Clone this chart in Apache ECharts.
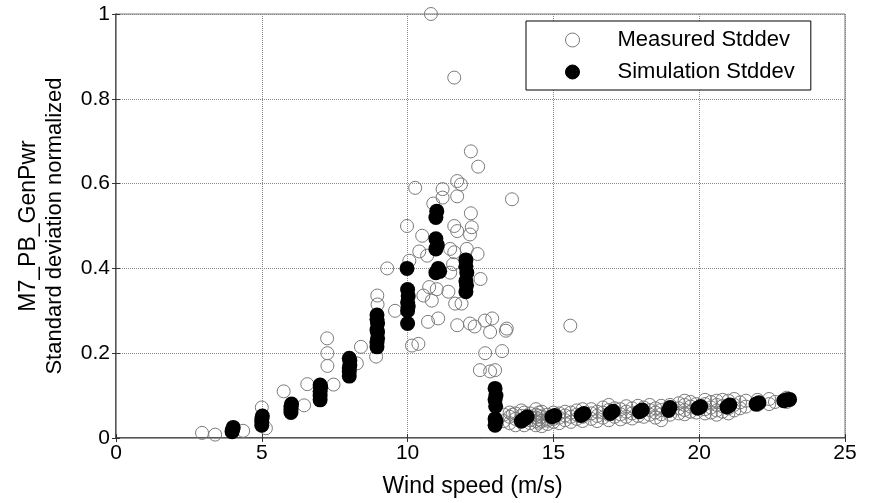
<!DOCTYPE html>
<html>
<head>
<meta charset="utf-8">
<script src="https://cdn.jsdelivr.net/npm/echarts@6/dist/echarts.min.js"></script>
<style>html,body{margin:0;padding:0;background:#fff}#c{width:874px;height:503px}</style>
</head>
<body>
<div id="c"></div>
<script>
const xTicks = [0, 5, 10, 15, 20, 25];
const yTicks = [0, 0.2, 0.4, 0.6, 0.8, 1];
const seriesNames = ['Measured Stddev', 'Simulation Stddev'];
const xName = 'Wind speed (m/s)';
const yNameLines = ['M7_PB_GenPwr', 'Standard deviation normalized'];

const measured = [
  [2.95,0.012],[3.4,0.008],[4.36,0.017],[5.0,0.072],[5.14,0.023],[5.75,0.11],
  [6.45,0.077],[6.56,0.127],[7.24,0.235],[7.25,0.2],[7.25,0.17],[7.46,0.126],
  [8.02,0.172],[8.26,0.176],[8.4,0.215],[8.92,0.192],[8.96,0.336],[8.97,0.315],
  [9.3,0.4],[9.57,0.3],[9.98,0.5],[10.06,0.418],[10.15,0.218],[10.37,0.222],
  [10.26,0.59],[10.4,0.44],[10.5,0.477],[10.67,0.43],[10.54,0.336],[10.83,0.324],
  [10.74,0.356],[10.7,0.274],[11.0,0.351],[11.05,0.282],[10.88,0.553],[10.8,1.0],
  [11.2,0.587],[11.2,0.567],[11.6,0.85],[11.7,0.606],[11.83,0.598],[11.7,0.57],
  [11.46,0.446],[11.6,0.438],[11.56,0.41],[11.46,0.39],[11.4,0.345],[11.6,0.5],
  [11.7,0.488],[11.63,0.317],[11.85,0.317],[11.7,0.266],[12.03,0.446],[12.2,0.497],
  [12.14,0.48],[12.17,0.53],[12.17,0.676],[12.42,0.64],[12.4,0.434],[12.5,0.375],
  [12.14,0.27],[12.3,0.263],[12.65,0.277],[12.83,0.25],[12.9,0.282],[13.4,0.258],
  [13.37,0.253],[12.66,0.2],[13.24,0.205],[12.48,0.16],[12.83,0.157],[13.0,0.16],
  [13.58,0.563],[15.58,0.265],[13.6,0.055],
  [13.3,0.04],[13.3,0.055],[13.5,0.035],[13.5,0.05],[13.5,0.06],[13.7,0.045],
  [13.7,0.03],[13.7,0.058],[13.9,0.038],[13.9,0.052],[13.9,0.065],[14.0,0.03],
  [14.0,0.06],[14.2,0.035],[14.2,0.05],[14.2,0.042],[14.2,0.058],[14.4,0.03],
  [14.4,0.04],[14.4,0.048],[14.4,0.055],[14.4,0.068],[14.5,0.036],[14.5,0.044],
  [14.5,0.052],[14.5,0.06],[14.6,0.028],[14.6,0.04],[14.6,0.05],[14.6,0.062],
  [14.8,0.033],[14.8,0.045],[14.8,0.055],[14.8,0.041],[15.0,0.038],[15.0,0.06],
  [15.0,0.045],[15.2,0.035],[15.2,0.048],[15.2,0.058],[15.4,0.042],[15.4,0.053],
  [15.4,0.062],[15.6,0.038],[15.6,0.05],[15.6,0.06],[15.8,0.045],[15.8,0.055],
  [15.8,0.065],[16.0,0.04],[16.0,0.05],[16.0,0.068],[16.3,0.045],[16.3,0.058],
  [16.3,0.068],[16.5,0.04],[16.5,0.052],[16.5,0.062],[16.7,0.048],[16.7,0.06],
  [16.7,0.072],[16.9,0.042],[16.9,0.055],[16.9,0.066],[16.9,0.078],[17.1,0.05],
  [17.1,0.07],[17.3,0.044],[17.3,0.056],[17.3,0.068],[17.5,0.05],[17.5,0.062],
  [17.5,0.075],[17.7,0.046],[17.7,0.058],[17.7,0.07],[17.9,0.052],[17.9,0.076],
  [18.1,0.05],[18.1,0.072],[18.3,0.055],[18.3,0.066],[18.3,0.078],[18.5,0.048],
  [18.5,0.06],[18.5,0.07],[18.7,0.042],[18.7,0.056],[18.7,0.066],[18.7,0.076],
  [19.0,0.055],[19.0,0.078],[19.3,0.058],[19.3,0.07],[19.3,0.082],[19.5,0.056],
  [19.5,0.066],[19.5,0.078],[19.5,0.088],[19.7,0.062],[19.7,0.074],[19.7,0.085],
  [19.9,0.06],[19.9,0.08],[20.2,0.058],[20.2,0.068],[20.2,0.08],[20.2,0.09],
  [20.4,0.06],[20.4,0.072],[20.4,0.085],[20.6,0.055],[20.6,0.065],[20.6,0.078],
  [20.6,0.088],[20.8,0.062],[20.8,0.075],[20.8,0.09],[21.0,0.058],[21.0,0.07],
  [21.0,0.088],[21.2,0.065],[21.2,0.078],[21.2,0.092],[21.4,0.07],[21.4,0.084],
  [21.6,0.074],[21.6,0.088],[22.0,0.078],[22.0,0.09],[22.4,0.08],[22.4,0.092],
  [22.6,0.085],[23.0,0.085],[23.0,0.095]
];

const simulation = [
  [3.98,0.015],[4.0,0.02],[4.02,0.025],
  [5.0,0.03],[5.0,0.038],[5.0,0.045],[5.02,0.052],
  [6.0,0.06],[6.0,0.068],[6.0,0.075],[6.02,0.08],
  [7.0,0.09],[7.0,0.1],[7.0,0.11],[7.02,0.12],[7.0,0.125],
  [8.0,0.146],[8.0,0.157],[8.0,0.165],[8.02,0.172],[8.02,0.182],[8.0,0.188],
  [8.95,0.215],[8.95,0.225],[8.97,0.235],[8.97,0.25],[8.95,0.255],[8.97,0.27],[8.95,0.28],[8.95,0.29],
  [10.0,0.27],[10.0,0.3],[10.02,0.31],[10.0,0.32],[10.02,0.335],[10.0,0.35],[9.98,0.4],
  [10.97,0.39],[11.1,0.393],[11.05,0.4],[10.97,0.446],[11.02,0.455],[10.97,0.47],[10.97,0.52],[11.0,0.535],
  [12.0,0.345],[12.02,0.36],[12.0,0.37],[12.03,0.39],[12.0,0.405],[12.0,0.42],
  [13.0,0.03],[13.03,0.04],[13.0,0.045],[13.02,0.075],[13.0,0.09],[13.03,0.1],[13.0,0.117],
  [13.9,0.04],[14.0,0.045],[14.1,0.05],
  [14.95,0.05],[15.05,0.053],
  [15.95,0.053],[16.05,0.058],
  [16.95,0.058],[17.05,0.063],
  [17.95,0.062],[18.05,0.066],
  [18.95,0.065],[19.0,0.072],
  [19.95,0.07],[20.05,0.074],
  [20.95,0.073],[21.05,0.078],
  [21.95,0.08],[22.05,0.083],
  [22.9,0.088],[23.0,0.09],[23.1,0.091]
];

const FONT = 'Liberation Sans, Arial, sans-serif';
const chart = echarts.init(document.getElementById('c'), null, {renderer: 'canvas'});
chart.setOption({
  animation: false,
  backgroundColor: '#fff',
  grid: {left: 116, right: 29, top: 14, bottom: 63, show: true, borderColor: '#777', borderWidth: 1},
  legend: {
    orient: 'vertical', left: 526, top: 21,
    padding: [8, 16, 7, 39], itemGap: 10,
    itemWidth: 80, itemHeight: 14,
    borderColor: '#000', borderWidth: 1, backgroundColor: '#fff',
    itemStyle: {borderWidth: 1},
    textStyle: {fontFamily: FONT, fontSize: 22, color: '#000', lineHeight: 21},
    data: seriesNames
  },
  xAxis: [{
    type: 'value', min: xTicks[0], max: xTicks[xTicks.length-1], interval: 5,
    name: xName, nameLocation: 'middle', nameGap: 37,
    nameTextStyle: {fontFamily: FONT, fontSize: 23, color: '#000', padding: [0, 16, 0, 0]},
    axisLine: {lineStyle: {color: '#333', width: 1.5}},
    axisTick: {inside: true, length: 4, lineStyle: {color: '#333'}},
    axisLabel: {fontFamily: FONT, fontSize: 21, color: '#000', margin: 5},
    splitLine: {show: true, lineStyle: {color: '#888', type: 'dotted', width: 1}}
  }, {
    type: 'value', position: 'top', min: 0, max: 25, interval: 5,
    axisLine: {show: true, lineStyle: {color: '#999', width: 1}},
    axisTick: {inside: true, length: 4, lineStyle: {color: '#333'}},
    axisLabel: {show: false}, splitLine: {show: false}
  }],
  yAxis: [{
    type: 'value', min: yTicks[0], max: yTicks[yTicks.length-1], interval: 0.2,
    name: '{a|' + yNameLines[0] + '}\n{b|' + yNameLines[1] + '}',
    nameLocation: 'middle', nameGap: 49, nameRotate: 90,
    nameTextStyle: {
      fontFamily: FONT, fontSize: 22, color: '#000',
      rich: {
        a: {fontFamily: FONT, fontSize: 23, color: '#000', lineHeight: 26},
        b: {fontFamily: FONT, fontSize: 22, color: '#000', lineHeight: 25}
      }
    },
    axisLine: {lineStyle: {color: '#333', width: 1.5}},
    axisTick: {inside: true, length: 4, lineStyle: {color: '#333'}},
    axisLabel: {fontFamily: FONT, fontSize: 21, color: '#000', margin: 6},
    splitLine: {show: true, lineStyle: {color: '#888', type: 'dotted', width: 1}}
  }, {
    type: 'value', position: 'right', min: 0, max: 1, interval: 0.2,
    axisLine: {show: true, lineStyle: {color: '#999', width: 1}},
    axisTick: {inside: true, length: 4, lineStyle: {color: '#333'}},
    axisLabel: {show: false}, splitLine: {show: false}
  }],
  series: [{
    name: seriesNames[0], type: 'scatter', xAxisIndex: 0, yAxisIndex: 0,
    symbol: 'circle', symbolSize: 13, clip: false,
    itemStyle: {color: 'rgba(255,255,255,0)', borderColor: '#7a7a7a', borderWidth: 1, opacity: 1},
    data: measured, z: 2
  }, {
    name: seriesNames[1], type: 'scatter', xAxisIndex: 0, yAxisIndex: 0,
    symbol: 'circle', symbolSize: 15, clip: false,
    itemStyle: {color: '#000', borderColor: '#000', borderWidth: 0, opacity: 1},
    data: simulation, z: 3
  }]
});
</script>
</body>
</html>
